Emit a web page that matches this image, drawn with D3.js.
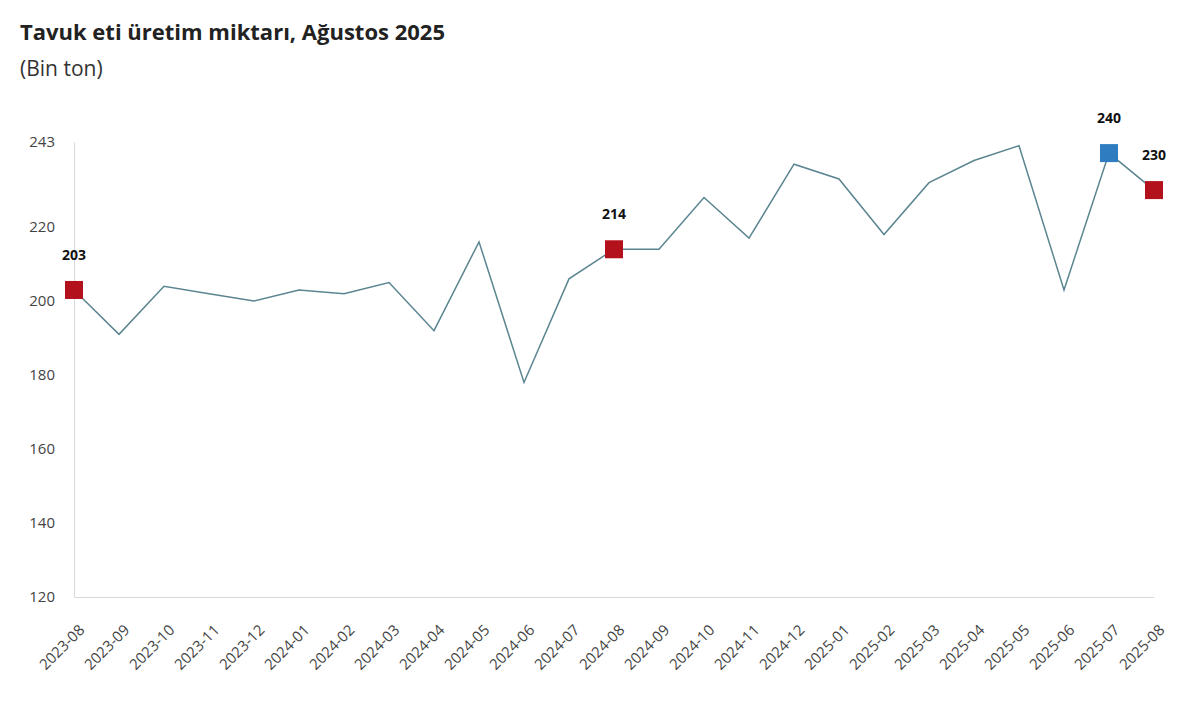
<!DOCTYPE html>
<html>
<head>
<meta charset="utf-8">
<script src="https://cdn.jsdelivr.net/npm/d3@7"></script>
<style>
  body { margin: 0; background: #fff; }
  text { font-family: "Open Sans", sans-serif; }
</style>
</head>
<body>
<div id="chart"></div>
<script>
// Data
var months = ["2023-08", "2023-09", "2023-10", "2023-11", "2023-12", "2024-01", "2024-02",
  "2024-03", "2024-04", "2024-05", "2024-06", "2024-07", "2024-08", "2024-09", "2024-10",
  "2024-11", "2024-12", "2025-01", "2025-02", "2025-03", "2025-04", "2025-05", "2025-06",
  "2025-07", "2025-08"];
var production = [203, 191, 204, 202, 200, 203, 202, 205, 192, 216, 178, 206, 214, 214, 228,
  217, 237, 233, 218, 232, 238, 242, 203, 240, 230];
var highlightMonths = ["2023-08", "2024-08", "2025-07", "2025-08"];
var highlightColors = ["#b3111c", "#b3111c", "#2f7dc0", "#b3111c"];
var yTicks = [120, 140, 160, 180, 200, 220, 243];

var svgWidth = 1200;
var svgHeight = 711;

var margin = { top: 142, bottom: 114, right: 46, left: 74 };
var width = svgWidth - margin.left - margin.right;
var height = svgHeight - margin.top - margin.bottom;

var svg = d3.select("#chart")
  .append("svg")
  .attr("width", svgWidth)
  .attr("height", svgHeight);

// Title
svg.append("text")
  .attr("x", 20)
  .attr("y", 40)
  .attr("font-size", "22px")
  .attr("font-weight", "bold")
  .attr("fill", "#222")
  .text("Tavuk eti üretim miktarı, Ağustos 2025");

svg.append("text")
  .attr("x", 20)
  .attr("y", 76)
  .attr("font-size", "21px")
  .attr("fill", "#333")
  .text("(Bin ton)");

var chartGroup = svg.append("g")
  .attr("transform", `translate(${margin.left}, ${margin.top})`);

var data = months.map(function(m, i) {
  return { month: m, value: production[i] };
});

// Scales
var xScale = d3.scalePoint()
  .domain(months)
  .range([0, width]);

var yScale = d3.scaleLinear()
  .domain([120, 243])
  .range([height, 0]);

// Axes
var bottomAxis = d3.axisBottom(xScale).tickSize(0).tickPadding(0);
var leftAxis = d3.axisLeft(yScale).tickValues(yTicks).tickSize(0).tickPadding(19);

var xAxisG = chartGroup.append("g")
  .attr("transform", `translate(0, ${height})`)
  .call(bottomAxis);

xAxisG.select(".domain").attr("stroke", "#d9d9d9");
xAxisG.selectAll("text")
  .attr("font-size", "15px")
  .attr("fill", "#444")
  .attr("text-anchor", "end")
  .attr("dy", null)
  .attr("y", 0)
  .attr("transform", "translate(11, 34) rotate(-45)");

var yAxisG = chartGroup.append("g")
  .call(leftAxis);

yAxisG.select(".domain").attr("stroke", "#d9d9d9");
yAxisG.selectAll("text")
  .attr("font-size", "15px")
  .attr("fill", "#444");

// Line
var line = d3.line()
  .x(d => xScale(d.month))
  .y(d => yScale(d.value));

chartGroup.append("path")
  .datum(data)
  .attr("fill", "none")
  .attr("stroke", "#5b8591")
  .attr("stroke-width", 1.5)
  .attr("d", line);

// Highlighted points
var marked = data.filter(d => highlightMonths.indexOf(d.month) >= 0);

chartGroup.selectAll(".marker")
  .data(marked)
  .enter()
  .append("rect")
  .classed("marker", true)
  .attr("x", d => xScale(d.month) - 9)
  .attr("y", d => yScale(d.value) - 9)
  .attr("width", 18)
  .attr("height", 18)
  .attr("fill", d => highlightColors[highlightMonths.indexOf(d.month)]);

chartGroup.selectAll(".valueLabel")
  .data(marked)
  .enter()
  .append("text")
  .classed("valueLabel", true)
  .attr("x", d => xScale(d.month))
  .attr("y", d => yScale(d.value) - 30)
  .attr("text-anchor", "middle")
  .attr("font-size", "14px")
  .attr("font-weight", "bold")
  .attr("font-family", "Liberation Sans, Arial, sans-serif")
  .attr("fill", "#111")
  .text(d => d.value);
</script>
</body>
</html>
